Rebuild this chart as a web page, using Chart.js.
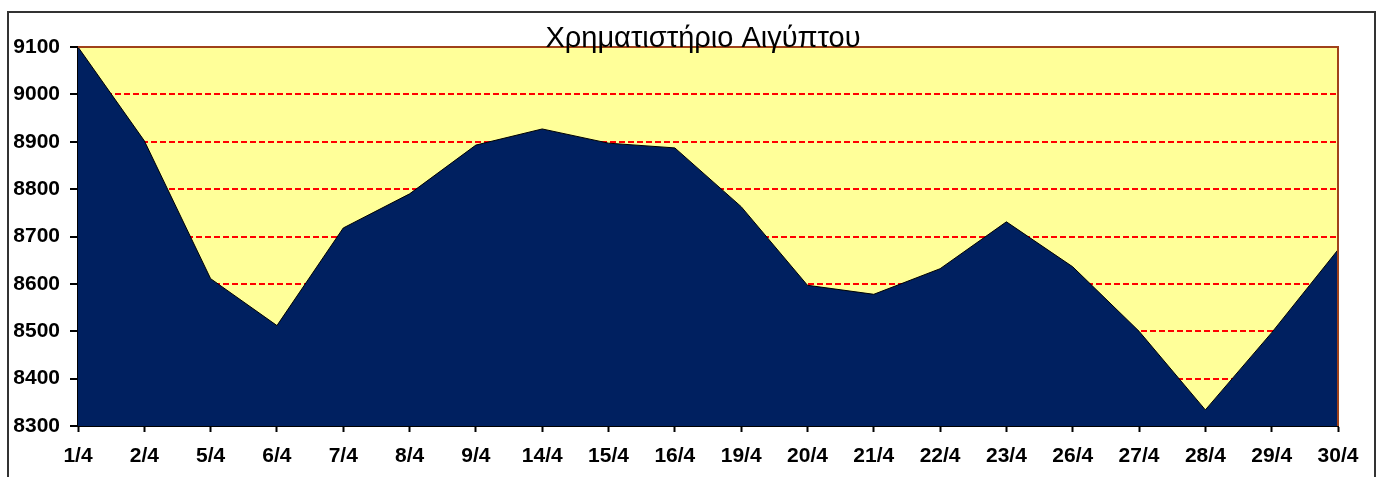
<!DOCTYPE html>
<html>
<head>
<meta charset="utf-8">
<script src="https://cdn.jsdelivr.net/npm/chart.js@4/dist/chart.umd.min.js"></script>
<style>
  html, body { margin: 0; padding: 0; background: #fff; }
  #wrap { width: 1385px; height: 477px; }
</style>
</head>
<body>
<div id="wrap"><canvas id="egxChart" width="1385" height="477"></canvas></div>
<script>
// Egyptian stock exchange index, April
const chartTitle = 'Χρηματιστήριο Αιγύπτου';
const days = ['1/4', '2/4', '5/4', '6/4', '7/4', '8/4', '9/4', '14/4', '15/4', '16/4',
    '19/4', '20/4', '21/4', '22/4', '23/4', '26/4', '27/4', '28/4', '29/4', '30/4'];
const indexValues = [9100, 8902, 8611, 8512, 8718, 8790, 8893, 8927, 8897, 8887,
    8763, 8597, 8578, 8632, 8731, 8636, 8500, 8334, 8497, 8672];
const yMin = 8300;
const yMax = 9100;
const yStep = 100;

const tickFont = { family: '"Liberation Sans", Arial, sans-serif', size: 21, weight: 'bold' };

// plot background, plot border, outer frame and title
const framePlugin = {
    id: 'frame',
    beforeDraw(chart) {
        const { ctx, chartArea: a } = chart;
        ctx.save();
        ctx.fillStyle = '#FFFF99';
        ctx.fillRect(a.left, a.top, a.right - a.left, a.bottom - a.top);
        ctx.restore();
    },
    afterDatasetsDraw(chart) {
        const { ctx, chartArea: a } = chart;
        ctx.save();
        ctx.strokeStyle = '#A0421A';
        ctx.lineWidth = 2;
        ctx.beginPath();
        ctx.moveTo(a.left, a.top);
        ctx.lineTo(a.right, a.top);
        ctx.lineTo(a.right, a.bottom);
        ctx.stroke();
        ctx.restore();
    },
    afterDraw(chart) {
        const { ctx } = chart;
        ctx.save();
        ctx.strokeStyle = '#333';
        ctx.lineWidth = 2;
        ctx.strokeRect(8, 12, 1367, 480);
        ctx.fillStyle = '#000';
        ctx.font = '29px "Liberation Sans", Arial, sans-serif';
        ctx.textAlign = 'center';
        ctx.textBaseline = 'alphabetic';
        ctx.fillText(chartTitle, 703, 47);
        ctx.restore();
    }
};

const ctx = document.getElementById('egxChart').getContext('2d');
new Chart(ctx, {
    type: 'line',
    data: {
        labels: days,
        datasets: [{
            data: indexValues,
            borderColor: '#000',
            borderWidth: 1,
            backgroundColor: '#002060',
            fill: 'start',
            pointRadius: 0,
            tension: 0
        }]
    },
    options: {
        responsive: false,
        animation: false,
        layout: { padding: { left: 7, right: 47, top: 47, bottom: 0 } },
        plugins: {
            legend: { display: false },
            title: { display: false },
            tooltip: { enabled: false }
        },
        scales: {
            x: {
                offset: false,
                afterFit(scale) { scale.height = 51; },
                border: { color: '#000', width: 2 },
                grid: {
                    drawOnChartArea: false,
                    drawTicks: true,
                    tickLength: 6,
                    tickColor: '#000',
                    tickWidth: 2
                },
                ticks: {
                    color: '#000',
                    padding: 12,
                    maxRotation: 0,
                    autoSkip: false,
                    font: tickFont
                }
            },
            y: {
                min: yMin,
                max: yMax,
                afterFit(scale) { scale.width = 71; },
                border: { color: '#000', width: 2, dash: [6, 3] },
                grid: {
                    color: ctx => (ctx.tick && ctx.tick.value === yMax) ? 'rgba(0,0,0,0)' : '#FF0000',
                    lineWidth: 2,
                    drawTicks: true,
                    tickLength: 8,
                    tickColor: '#000',
                    tickWidth: 2,
                    tickBorderDash: []
                },
                ticks: {
                    stepSize: yStep,
                    color: '#000',
                    padding: 10,
                    font: tickFont,
                    callback: v => String(v)
                }
            }
        }
    },
    plugins: [framePlugin]
});
</script>
</body>
</html>
